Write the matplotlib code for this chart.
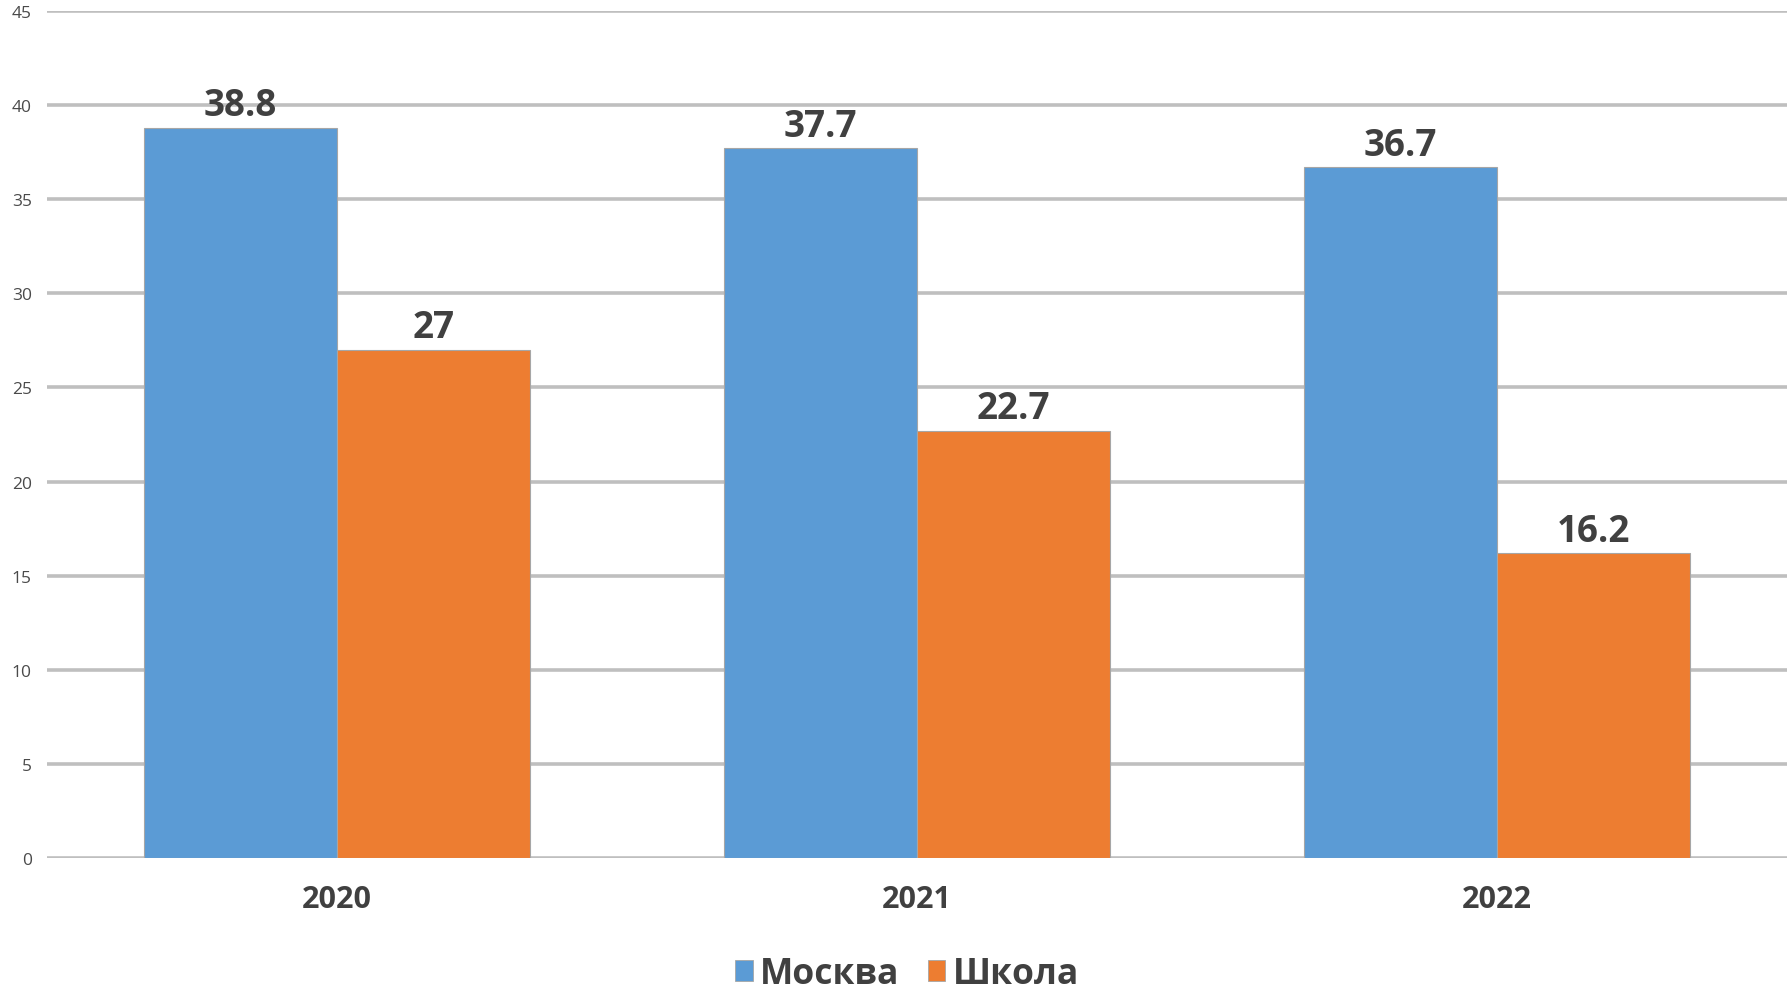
import matplotlib
matplotlib.use("Agg")
import matplotlib.pyplot as plt
import numpy as np
from matplotlib.patches import Patch

categories = ["2020", "2021", "2022"]
series_names = ["Москва", "Школа"]
moscow = [38.8, 37.7, 36.7]
school = [27, 22.7, 16.2]
moscow_labels = ["38.8", "37.7", "36.7"]
school_labels = ["27", "22.7", "16.2"]
yticks = [0, 5, 10, 15, 20, 25, 30, 35, 40, 45]

plt.rcParams['font.family'] = ['Open Sans', 'DejaVu Sans']

W, H = 1787, 995
fig = plt.figure(figsize=(W/100, H/100), dpi=100)
ax = fig.add_axes([47/W, (H-859)/H, 1-47/W, (859-12)/H])

colors = ["#5B9BD5", "#ED7D31"]
x = np.arange(len(categories))
bw = 1/3
b1 = ax.bar(x - bw/2, moscow, bw, color=colors[0], edgecolor="#A6A6A6", linewidth=0.8, zorder=3)
b2 = ax.bar(x + bw/2, school, bw, color=colors[1], edgecolor="#A6A6A6", linewidth=0.8, zorder=3)

for bars, labels in ((b1, moscow_labels), (b2, school_labels)):
    for r, lab in zip(bars, labels):
        ax.annotate(lab, (r.get_x() + r.get_width()/2, r.get_height()),
                    xytext=(0, 9), textcoords="offset points",
                    ha="center", va="baseline", fontsize=26.5, fontweight="bold",
                    color="#404040", zorder=5)

ax.set_xlim(-0.5, 2.5)
ax.set_ylim(0, 45)
ax.set_yticks(yticks)
ax.set_yticklabels([str(t) for t in yticks], fontsize=12.5, color="#4A4A4A")
ax.set_xticks(x)
ax.set_xticklabels(categories, fontsize=22, fontweight="bold", color="#404040")
ax.tick_params(axis="y", length=0, pad=11)
ax.tick_params(axis="x", length=0, pad=19)
ax.grid(axis="y", color="#BFBFBF", linewidth=2.6, zorder=0)
ax.set_axisbelow(True)
for s in ax.spines.values():
    s.set_visible(False)

handles = [Patch(facecolor=colors[0], edgecolor="#A6A6A6", linewidth=0.6),
           Patch(facecolor=colors[1], edgecolor="#A6A6A6", linewidth=0.6)]
leg = fig.legend(handles, series_names, loc="center", bbox_to_anchor=(907/W, 1-975/H),
                 ncol=2, frameon=False, fontsize=25.5, handlelength=0.5, handleheight=0.5,
                 handletextpad=0.2, columnspacing=0.8, borderaxespad=0, borderpad=0)
for t in leg.get_texts():
    t.set_color("#404040")
    t.set_fontweight("bold")

fig.savefig("out.png", dpi=100)
